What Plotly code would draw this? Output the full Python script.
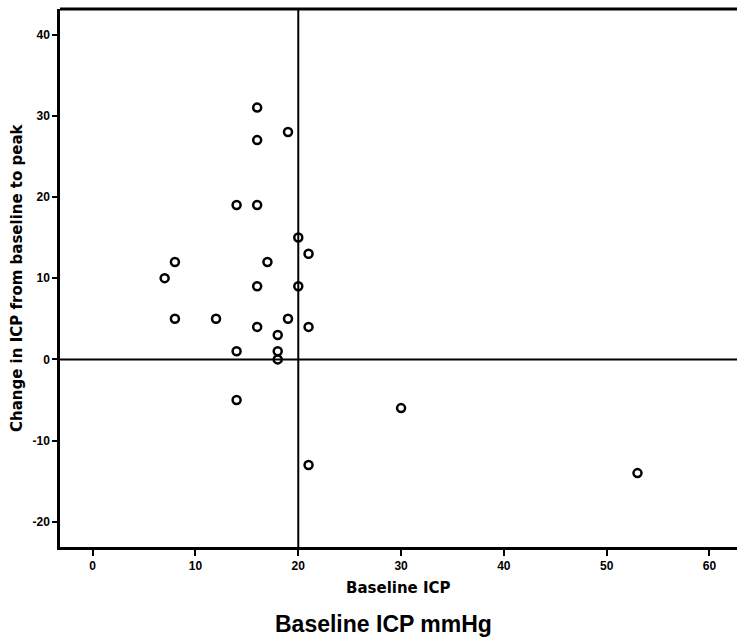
import plotly.graph_objects as go

baseline_icp = [7, 8, 8, 12, 14, 14, 14, 16, 16, 16, 16, 16, 17, 18, 18, 18, 19, 19, 20, 20, 21, 21, 21, 30, 53]
change_icp = [10, 12, 5, 5, 1, -5, 19, 31, 27, 19, 9, 4, 12, 3, 1, 0, 28, 5, 15, 9, 13, 4, -13, -6, -14]
x_ticks = [0, 10, 20, 30, 40, 50, 60]
y_ticks = [-20, -10, 0, 10, 20, 30, 40]
ref_x = 20
ref_y = 0

fig = go.Figure()
fig.add_trace(go.Scatter(
    x=baseline_icp, y=change_icp, mode="markers",
    marker=dict(symbol="circle-open", size=8, color="black", line=dict(width=2.5, color="black")),
    showlegend=False, cliponaxis=False,
))

fig.add_shape(type="line", xref="x", yref="paper", x0=ref_x, x1=ref_x, y0=0, y1=1,
              line=dict(color="black", width=2))
fig.add_shape(type="line", xref="paper", yref="y", x0=0, x1=1, y0=ref_y, y1=ref_y,
              line=dict(color="black", width=2))
fig.add_shape(type="line", xref="paper", yref="paper", x0=0, x1=1, y0=1, y1=1,
              line=dict(color="black", width=3))

tickfont = dict(family="Liberation Sans", size=12, color="black", weight="bold")
fig.update_xaxes(range=[-3.18, 62.68], tickvals=x_ticks, ticktext=[str(v) for v in x_ticks],
                 showgrid=False, zeroline=False, showline=True, linecolor="black", linewidth=2.5,
                 ticks="outside", ticklen=6, tickwidth=2, tickcolor="black", tickfont=tickfont)
fig.update_yaxes(range=[-23.1, 43.14], tickvals=y_ticks, ticktext=[str(v) for v in y_ticks],
                 showgrid=False, zeroline=False, showline=True, linecolor="black", linewidth=2.5,
                 ticks="outside", ticklen=5, tickwidth=2, tickcolor="black", tickfont=tickfont)

fig.add_annotation(text="Change in ICP from baseline to peak", xref="paper", yref="paper",
                   x=(17 - 60) / 677, y=0.5, textangle=-90, showarrow=False,
                   font=dict(family="DejaVu Sans", size=15, color="black", weight="bold"),
                   xanchor="center", yanchor="middle")
fig.add_annotation(text="Baseline ICP", xref="paper", yref="paper",
                   x=0.5, y=-(588 - 547) / 538, showarrow=False,
                   font=dict(family="DejaVu Sans", size=15, color="black", weight="bold"),
                   xanchor="center", yanchor="middle")
fig.add_annotation(text="Baseline ICP mmHg", xref="paper", yref="paper",
                   x=(383 - 60) / 677, y=-(624 - 547) / 538, showarrow=False,
                   font=dict(family="Liberation Sans", size=23, color="black", weight="bold"),
                   xanchor="center", yanchor="middle")

fig.update_layout(width=737, height=641, margin=dict(l=60, r=0, t=9, b=94),
                  plot_bgcolor="white", paper_bgcolor="white")
fig.write_html("out.html")
